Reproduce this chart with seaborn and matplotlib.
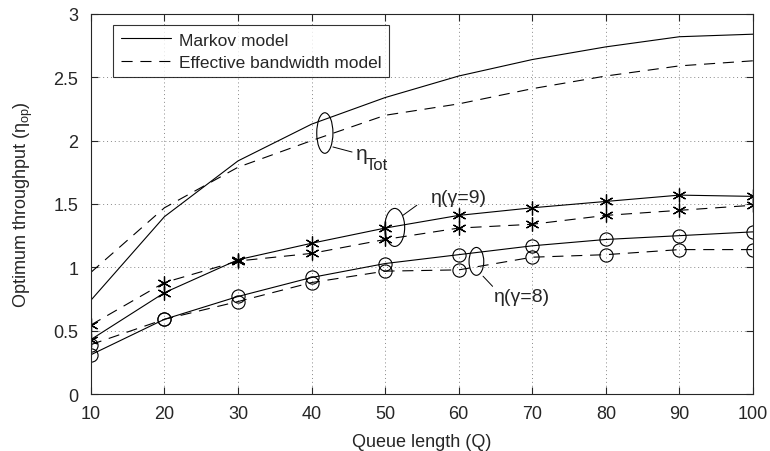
import numpy as np
import pandas as pd
import matplotlib
matplotlib.use('Agg')
import matplotlib.pyplot as plt
import seaborn as sns
from matplotlib.patches import Ellipse

sns.set_style('ticks')
plt.rcParams['font.family'] = ['Liberation Sans', 'DejaVu Sans']
plt.rcParams['font.size'] = 13
plt.rcParams['mathtext.fontset'] = 'custom'
plt.rcParams['mathtext.rm'] = 'Liberation Sans'
plt.rcParams['mathtext.it'] = 'Liberation Sans'

# Queue lengths
queue = [10, 20, 30, 40, 50, 60, 70, 80, 90, 100]

# total throughput
tot_markov = [0.74, 1.40, 1.84, 2.13, 2.34, 2.51, 2.64, 2.74, 2.82, 2.84]
tot_eb = [0.96, 1.47, 1.79, 2.00, 2.20, 2.29, 2.41, 2.51, 2.59, 2.63]

# gamma = 9
g9_markov = [0.43, 0.80, 1.06, 1.19, 1.31, 1.41, 1.47, 1.52, 1.57, 1.56]
g9_eb = [0.545, 0.88, 1.05, 1.11, 1.22, 1.31, 1.34, 1.41, 1.45, 1.49]

# gamma = 8
g8_markov = [0.31, 0.59, 0.77, 0.92, 1.03, 1.10, 1.17, 1.22, 1.25, 1.28]
g8_eb = [0.39, 0.59, 0.73, 0.88, 0.97, 0.98, 1.08, 1.10, 1.14, 1.14]

fig = plt.figure(figsize=(7.7, 4.52), dpi=100)
ax = fig.add_axes([0.118, 0.126, 0.860, 0.841])

lw = 0.8
dash = (10, 7)
star = (6, 2, 0)

sns.lineplot(x=queue, y=tot_markov, ax=ax, color='black', lw=lw, label='Markov model')
sns.lineplot(x=queue, y=tot_eb, ax=ax, color='black', lw=lw,
             linestyle=(0, dash), label='Effective bandwidth model')

sns.lineplot(x=queue, y=g9_markov, ax=ax, color='black', lw=lw, marker=star,
             markersize=10, markeredgewidth=0.9, markeredgecolor='black')
sns.lineplot(x=queue, y=g9_eb, ax=ax, color='black', lw=lw, linestyle=(0, dash),
             marker=star, markersize=10, markeredgewidth=0.9, markeredgecolor='black')

sns.lineplot(x=queue, y=g8_markov, ax=ax, color='black', lw=lw, marker='o',
             markersize=9.5, markerfacecolor='none', markeredgecolor='black', markeredgewidth=0.8)
sns.lineplot(x=queue, y=g8_eb, ax=ax, color='black', lw=lw, linestyle=(0, dash),
             marker='o', markersize=9.5, markerfacecolor='none', markeredgecolor='black',
             markeredgewidth=0.8)

# annotations: ellipses + leader lines + labels
for (cx, cy, w, h) in [(41.8, 2.06, 2.2, 0.32), (51.3, 1.315, 2.7, 0.30), (62.4, 1.047, 2.0, 0.22)]:
    ax.add_patch(Ellipse((cx, cy), w, h, fill=False, edgecolor='black', lw=0.8))

ax.plot([42.9, 45.5], [1.95, 1.91], color='black', lw=0.7)
ax.text(46.0, 1.90, 'η', fontsize=15, va='center', ha='left')
ax.text(47.4, 1.81, 'Tot', fontsize=12, va='center', ha='left')
ax.plot([52.4, 54.3], [1.41, 1.49], color='black', lw=0.7)
ax.text(56.2, 1.55, 'η(γ=9)', fontsize=14, va='center', ha='left')
ax.plot([63.3, 64.6], [0.93, 0.85], color='black', lw=0.7)
ax.text(64.8, 0.77, 'η(γ=8)', fontsize=14, va='center', ha='left')

ax.set_xlim(10, 100)
ax.set_ylim(0, 3)
ax.set_xticks(queue)
ax.set_yticks([0, 0.5, 1, 1.5, 2, 2.5, 3])
ax.set_yticklabels(['0', '0.5', '1', '1.5', '2', '2.5', '3'])
ax.grid(True, linestyle=(0, (1, 3)), color='#888888', lw=0.7)
ax.tick_params(direction='in', top=True, right=True, length=5, width=0.8, labelsize=13)
ax.tick_params(axis='x', pad=8)
ax.tick_params(axis='y', pad=9)
for s in ax.spines.values():
    s.set_linewidth(0.8)
    s.set_visible(True)

ax.set_xlabel('Queue length (Q)', fontsize=13, labelpad=8)
ax.set_ylabel(r'Optimum throughput ($\eta_{\rm op}$)', fontsize=13, labelpad=13)

leg = ax.legend(loc='upper left', bbox_to_anchor=(0.033, 0.972), borderaxespad=0,
                frameon=True, fancybox=False, edgecolor='black', fontsize=12.5,
                handlelength=2.9, handletextpad=0.45, borderpad=0.45, labelspacing=0.4)
leg.get_frame().set_linewidth(0.8)

fig.savefig('out.png', dpi=100)
